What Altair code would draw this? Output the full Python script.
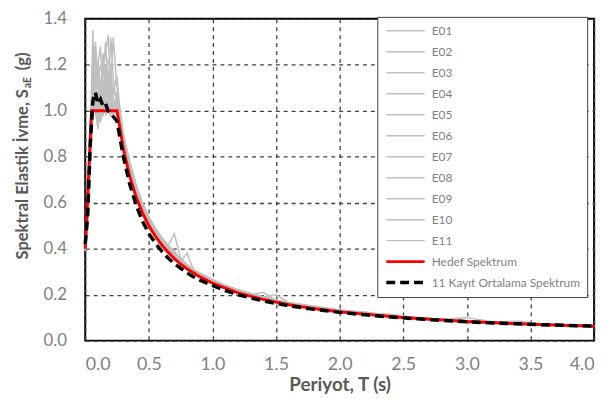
import altair as alt
import pandas as pd

# Period grid shared by the 11 record spectra and the mean spectrum
periods = [0.00, 0.02, 0.04, 0.06, 0.07, 0.08, 0.10, 0.12, 0.14, 0.16, 0.18, 0.20,
           0.22, 0.25, 0.28, 0.30, 0.35, 0.40, 0.45, 0.50, 0.55, 0.60, 0.65, 0.70,
           0.75, 0.80, 0.85, 0.90, 1.0, 1.1, 1.2, 1.3, 1.4, 1.5, 1.6, 1.8, 2.0,
           2.2, 2.4, 2.6, 2.8, 3.0, 3.2, 3.4, 3.6, 3.8, 4.0]

E01 = [0.40, 0.55, 0.85, 1.35, 1.10, 0.98, 1.05, 1.12, 1.00, 1.08, 1.15, 1.05, 1.02, 0.98, 0.90, 0.86, 0.74, 0.64, 0.57, 0.51, 0.47, 0.43, 0.40, 0.37, 0.35, 0.32, 0.30, 0.285, 0.26, 0.235, 0.215, 0.20, 0.185, 0.17, 0.16, 0.142, 0.128, 0.116, 0.106, 0.098, 0.090, 0.085, 0.080, 0.075, 0.071, 0.067, 0.064]
E02 = [0.41, 0.60, 0.95, 1.10, 1.20, 1.05, 0.95, 1.02, 1.18, 1.25, 1.33, 1.10, 1.00, 1.05, 0.95, 0.88, 0.76, 0.66, 0.58, 0.52, 0.48, 0.44, 0.41, 0.465, 0.36, 0.33, 0.31, 0.29, 0.265, 0.24, 0.22, 0.205, 0.19, 0.175, 0.163, 0.145, 0.13, 0.12, 0.108, 0.10, 0.093, 0.087, 0.081, 0.076, 0.071, 0.067, 0.063]
E03 = [0.40, 0.52, 0.80, 1.05, 1.15, 1.25, 1.10, 0.98, 1.05, 1.12, 1.08, 1.32, 1.15, 1.00, 0.92, 0.85, 0.73, 0.65, 0.58, 0.52, 0.47, 0.43, 0.40, 0.37, 0.345, 0.38, 0.31, 0.285, 0.26, 0.235, 0.215, 0.20, 0.21, 0.175, 0.16, 0.14, 0.128, 0.118, 0.107, 0.097, 0.09, 0.084, 0.079, 0.075, 0.07, 0.066, 0.063]
E04 = [0.39, 0.50, 0.78, 1.00, 1.08, 1.18, 1.22, 1.05, 1.10, 1.00, 1.05, 1.15, 1.08, 1.15, 0.95, 0.89, 0.75, 0.66, 0.59, 0.53, 0.48, 0.44, 0.40, 0.375, 0.35, 0.325, 0.305, 0.29, 0.262, 0.238, 0.218, 0.202, 0.187, 0.173, 0.162, 0.146, 0.131, 0.119, 0.11, 0.10, 0.092, 0.10, 0.082, 0.077, 0.072, 0.068, 0.064]
E05 = [0.40, 0.55, 0.90, 1.20, 1.05, 1.00, 0.92, 1.00, 1.10, 1.20, 1.05, 1.00, 1.10, 1.05, 0.96, 0.88, 0.77, 0.67, 0.59, 0.53, 0.49, 0.45, 0.415, 0.39, 0.355, 0.33, 0.31, 0.29, 0.265, 0.24, 0.22, 0.205, 0.19, 0.178, 0.165, 0.15, 0.135, 0.12, 0.11, 0.101, 0.093, 0.086, 0.081, 0.085, 0.073, 0.068, 0.064]
E06 = [0.41, 0.58, 0.88, 1.15, 1.28, 1.15, 1.00, 0.95, 1.02, 1.15, 1.22, 1.20, 1.05, 1.02, 0.94, 0.87, 0.74, 0.65, 0.575, 0.515, 0.47, 0.435, 0.40, 0.375, 0.345, 0.325, 0.30, 0.285, 0.258, 0.236, 0.216, 0.20, 0.186, 0.172, 0.16, 0.143, 0.13, 0.117, 0.107, 0.098, 0.091, 0.085, 0.08, 0.075, 0.07, 0.066, 0.063]
E07 = [0.40, 0.52, 0.82, 1.08, 1.12, 1.30, 1.15, 1.00, 0.98, 1.05, 1.12, 1.08, 1.32, 1.10, 0.98, 0.90, 0.78, 0.68, 0.60, 0.54, 0.49, 0.45, 0.415, 0.38, 0.355, 0.33, 0.31, 0.295, 0.265, 0.24, 0.222, 0.205, 0.19, 0.20, 0.165, 0.148, 0.132, 0.12, 0.109, 0.10, 0.092, 0.086, 0.081, 0.076, 0.071, 0.067, 0.064]
E08 = [0.40, 0.54, 0.86, 1.12, 1.00, 1.10, 1.20, 1.28, 1.05, 0.98, 1.02, 1.10, 1.00, 1.08, 0.93, 0.86, 0.75, 0.655, 0.585, 0.525, 0.48, 0.44, 0.405, 0.375, 0.35, 0.325, 0.305, 0.288, 0.262, 0.238, 0.22, 0.203, 0.188, 0.174, 0.162, 0.145, 0.131, 0.125, 0.108, 0.099, 0.092, 0.085, 0.08, 0.075, 0.071, 0.067, 0.063]
E09 = [0.39, 0.50, 0.76, 0.98, 1.05, 1.08, 1.00, 1.10, 1.25, 1.08, 1.00, 0.98, 1.05, 1.00, 0.91, 0.85, 0.735, 0.645, 0.575, 0.515, 0.47, 0.43, 0.40, 0.37, 0.345, 0.32, 0.30, 0.283, 0.258, 0.234, 0.214, 0.198, 0.184, 0.171, 0.16, 0.142, 0.128, 0.117, 0.107, 0.098, 0.09, 0.084, 0.079, 0.074, 0.07, 0.066, 0.063]
E10 = [0.40, 0.56, 0.92, 1.18, 1.22, 1.08, 1.12, 1.20, 1.15, 1.30, 1.10, 1.02, 0.98, 1.02, 0.93, 0.87, 0.76, 0.66, 0.585, 0.52, 0.475, 0.44, 0.405, 0.375, 0.35, 0.33, 0.305, 0.29, 0.262, 0.238, 0.22, 0.204, 0.19, 0.176, 0.163, 0.146, 0.131, 0.119, 0.115, 0.10, 0.092, 0.086, 0.08, 0.076, 0.071, 0.067, 0.064]
E11 = [0.41, 0.57, 0.90, 1.25, 1.15, 1.05, 0.98, 1.08, 1.00, 1.05, 1.18, 1.12, 1.10, 1.05, 0.96, 0.89, 0.77, 0.67, 0.59, 0.53, 0.485, 0.445, 0.41, 0.38, 0.355, 0.33, 0.31, 0.292, 0.265, 0.24, 0.22, 0.204, 0.19, 0.177, 0.165, 0.147, 0.132, 0.12, 0.11, 0.101, 0.093, 0.087, 0.081, 0.076, 0.072, 0.068, 0.065]

mean_S = [0.42, 0.55, 0.86, 1.04, 1.07, 1.08, 1.03, 1.05, 1.02, 1.03, 1.00, 0.99, 0.975, 0.955, 0.86, 0.80, 0.68, 0.59, 0.52, 0.465, 0.425, 0.39, 0.36, 0.335, 0.315, 0.295, 0.278, 0.263, 0.24, 0.218, 0.20, 0.186, 0.173, 0.162, 0.152, 0.136, 0.123, 0.112, 0.103, 0.095, 0.088, 0.082, 0.077, 0.073, 0.069, 0.066, 0.063]

target_T = [0.0, 0.05, 0.25, 0.30, 0.35, 0.40, 0.45, 0.50, 0.55, 0.60, 0.65, 0.70, 0.75, 0.80, 0.90, 1.0, 1.2, 1.4, 1.6, 1.8, 2.0, 2.5, 3.0, 3.5, 4.0]
target_S = [0.40, 1.00, 1.00, 0.833, 0.714, 0.625, 0.556, 0.50, 0.455, 0.417, 0.385, 0.357, 0.333, 0.3125, 0.278, 0.25, 0.208, 0.179, 0.156, 0.139, 0.125, 0.10, 0.083, 0.071, 0.0625]

record_names = ["E01", "E02", "E03", "E04", "E05", "E06", "E07", "E08", "E09", "E10", "E11"]
record_values = [E01, E02, E03, E04, E05, E06, E07, E08, E09, E10, E11]
target_name = "Hedef Spektrum"
mean_name = "11 Kayıt Ortalama Spektrum"

x_ticks = [0.0, 0.5, 1.0, 1.5, 2.0, 2.5, 3.0, 3.5, 4.0]
y_ticks = [0.0, 0.2, 0.4, 0.6, 0.8, 1.0, 1.2, 1.4]
x_title = "Periyot, T (s)"
y_title_main = "Spektral Elastik İvme, S"
y_title_sub = "aE"
y_title_unit = "(g)"

names = record_names + [target_name, mean_name]
colors = ["#BFBFBF"] * 11 + ["#FF0000", "#000000"]
dashes = [[1, 0]] * 11 + [[1, 0], [9, 5]]
widths = [1.5] * 11 + [3.0, 3.5]

rec_rows = []
for n, vals in zip(record_names, record_values):
    for t, s in zip(periods, vals):
        rec_rows.append({"T": t, "S": s, "series": n})
rec_df = pd.DataFrame(rec_rows)
tgt_df = pd.DataFrame({"T": target_T, "S": target_S, "series": target_name})
mean_df = pd.DataFrame({"T": periods, "S": mean_S, "series": mean_name})

FONT = "Lato"
TITLE_COLOR = "#595959"

x_enc = alt.X("T:Q", scale=alt.Scale(domain=[0, 4], nice=False),
              axis=alt.Axis(values=x_ticks, format=".1f", title=x_title,
                            titleY=44, titleBaseline="middle", titleFontSize=19))
y_enc = alt.Y("S:Q", scale=alt.Scale(domain=[0, 1.4], nice=False),
              axis=alt.Axis(values=y_ticks, format=".1f", title=None, labelFontSize=17))

legend = alt.Legend(title=None, orient="none", legendX=295, legendY=-2,
                    fillColor="white", strokeColor="#404040", padding=7,
                    symbolType="stroke", symbolSize=1500, clipHeight=14,
                    labelFont=FONT, labelFontSize=12, labelColor="#7f7f7f",
                    labelLimit=400, rowPadding=7.2, labelOffset=5)

color_enc = alt.Color("series:N", scale=alt.Scale(domain=names, range=colors), legend=legend)
dash_enc = alt.StrokeDash("series:N", scale=alt.Scale(type="ordinal", domain=names, range=dashes), legend=legend)
width_enc = alt.StrokeWidth("series:N", scale=alt.Scale(type="ordinal", domain=names, range=widths), legend=legend)

def layer(df):
    return alt.Chart(df).mark_line().encode(
        x=x_enc, y=y_enc, color=color_enc, strokeDash=dash_enc, strokeWidth=width_enc,
        detail="series:N", order=alt.Order("T:Q"))

one = pd.DataFrame({"k": [0]})
title_main = alt.Chart(one).mark_text(
    text=y_title_main, angle=270, align="right", baseline="middle",
    font=FONT, fontSize=16.7, fontWeight="bold", color=TITLE_COLOR
).encode(x=alt.value(-63), y=alt.value(71))
title_sub = alt.Chart(one).mark_text(
    text=y_title_sub, angle=270, align="left", baseline="middle",
    font=FONT, fontSize=10.5, fontWeight="bold", color=TITLE_COLOR
).encode(x=alt.value(-58), y=alt.value(70))
title_unit = alt.Chart(one).mark_text(
    text=y_title_unit, angle=270, align="left", baseline="middle",
    font=FONT, fontSize=16.7, fontWeight="bold", color=TITLE_COLOR
).encode(x=alt.value(-63), y=alt.value(52))

chart = alt.layer(
    layer(rec_df), layer(tgt_df), layer(mean_df), title_main, title_sub, title_unit
).properties(
    width=514, height=325,
    autosize=alt.AutoSizeParams(type="none"),
    padding={"left": 78, "top": 9, "right": 10, "bottom": 57},
).configure_view(
    stroke="black", strokeWidth=2
).configure_axis(
    grid=True, gridColor="#404040", gridDash=[4, 4], gridWidth=1.3, gridOpacity=1,
    domain=False, ticks=False, labelFont=FONT, labelFontSize=18, labelColor="#7f7f7f",
    titleFont=FONT, titleFontWeight="bold", titleColor=TITLE_COLOR
).configure_axisX(
    labelPadding=15
).configure_axisY(
    labelPadding=19
)

chart.save("out.html", embed_options={"renderer": "svg", "actions": False})
